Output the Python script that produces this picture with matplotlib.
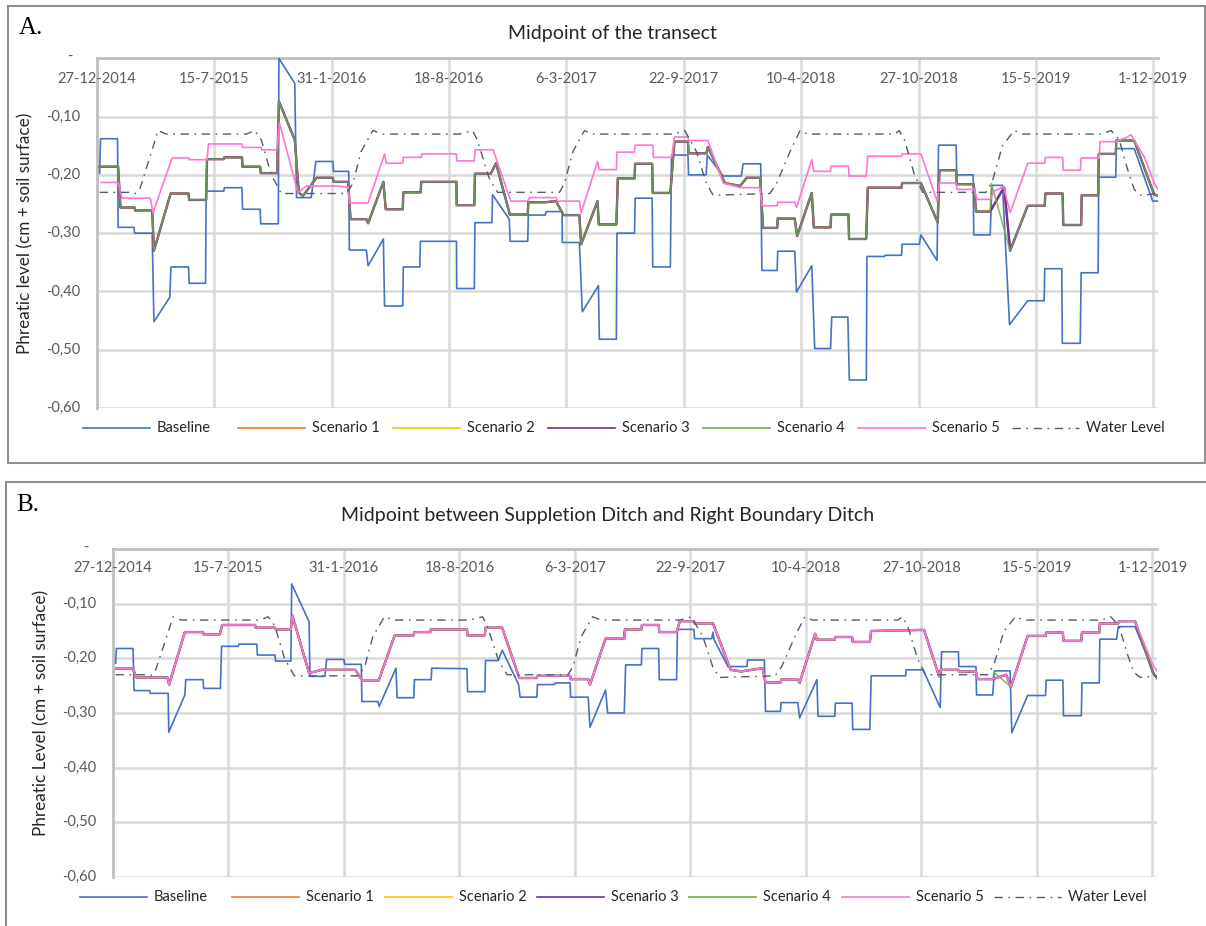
import datetime as dt
import matplotlib.pyplot as plt
from matplotlib.lines import Line2D
from matplotlib.patches import Rectangle

# x values are days counted from the first date of the series
start = dt.date(2014, 12, 27)
tick_days = list(range(0, 1801, 200))
x_end = 1808
y_ticks = [0.0, -0.1, -0.2, -0.3, -0.4, -0.5, -0.6]
y_labels = ['-', '-0,10', '-0,20', '-0,30', '-0,40', '-0,50', '-0,60']
names = ['Baseline', 'Scenario 1', 'Scenario 2', 'Scenario 3', 'Scenario 4', 'Scenario 5', 'Water Level']

# ---- A. midpoint of the transect ----
base_a = [(4.5, -0.197), (6, -0.138), (35, -0.138), (36, -0.29), (63, -0.29), (64, -0.30), (94, -0.30),
          (97, -0.452), (124, -0.41), (126, -0.358), (156, -0.358), (157, -0.386), (185, -0.386),
          (186, -0.228), (216, -0.228), (217, -0.222), (247, -0.222), (248, -0.259), (278, -0.259),
          (279, -0.284), (309, -0.284), (310, 0.0), (337, -0.043), (340, -0.239), (365, -0.239),
          (373, -0.177), (402, -0.177), (403, -0.194), (429, -0.194), (430, -0.329), (459, -0.329),
          (462, -0.356), (488, -0.31), (490, -0.425), (521, -0.425), (522, -0.358), (550, -0.358),
          (551, -0.314), (612.5, -0.314), (613, -0.395), (643, -0.395), (644, -0.282), (673, -0.282),
          (674, -0.234), (702.5, -0.276), (704, -0.314), (734, -0.314), (735, -0.269), (764, -0.269),
          (765, -0.263), (792.5, -0.263), (793, -0.316), (822, -0.316), (827, -0.435), (854.5, -0.39),
          (856, -0.482), (885, -0.482), (886, -0.30), (916, -0.30), (917, -0.24), (946, -0.24),
          (947, -0.358), (977, -0.358), (979, -0.166), (1007, -0.166), (1008, -0.2), (1038, -0.2),
          (1040, -0.166), (1067, -0.202), (1098, -0.202), (1101, -0.181), (1131, -0.181),
          (1133, -0.364), (1159, -0.364), (1160, -0.331), (1189, -0.331), (1192, -0.401),
          (1218, -0.356), (1223, -0.498), (1250, -0.498), (1252, -0.444), (1279.5, -0.444),
          (1282, -0.552), (1311, -0.552), (1312, -0.34), (1342, -0.34), (1343, -0.338), (1371, -0.338),
          (1372, -0.319), (1401.5, -0.319), (1404, -0.303), (1431.5, -0.347), (1434, -0.149),
          (1464, -0.149), (1465, -0.2), (1493, -0.2), (1494, -0.303), (1522, -0.303), (1525, -0.218),
          (1543, -0.218), (1555, -0.457), (1586, -0.416), (1614, -0.416), (1615, -0.361),
          (1644, -0.361), (1645, -0.489), (1675.5, -0.489), (1677, -0.368), (1706, -0.368),
          (1707, -0.204), (1736, -0.204), (1737, -0.155), (1767.5, -0.155), (1799, -0.245), (1808, -0.245)]

scen_a = [(4.5, -0.186), (36, -0.186), (40, -0.256), (64, -0.256), (65, -0.261), (94, -0.261), (97, -0.33),
          (125.5, -0.232), (156, -0.232), (157, -0.243), (186, -0.243), (187.5, -0.173), (216, -0.173),
          (217, -0.17), (247, -0.17), (248, -0.186), (278, -0.186), (279, -0.197), (307, -0.197),
          (310, -0.074), (337, -0.14), (344, -0.231), (351, -0.236), (374, -0.205), (402, -0.205),
          (403, -0.212), (428, -0.212), (432, -0.276), (459, -0.276), (462, -0.283), (488, -0.212),
          (492, -0.259), (521, -0.259), (522, -0.23), (551.5, -0.23), (552.5, -0.212), (612.5, -0.212),
          (613, -0.252), (643, -0.252), (644, -0.198), (671, -0.198), (680, -0.18), (703.5, -0.268),
          (734, -0.268), (735, -0.247), (764, -0.247), (782, -0.245), (795, -0.269), (822, -0.269),
          (825, -0.319), (853, -0.245), (855, -0.285), (885, -0.285), (887.5, -0.206), (916, -0.206),
          (917, -0.181), (946, -0.181), (947, -0.231), (977, -0.231), (984, -0.143), (1007, -0.143),
          (1008, -0.163), (1038.5, -0.163), (1041, -0.152), (1070, -0.214), (1096, -0.219),
          (1107, -0.205), (1130, -0.205), (1135, -0.291), (1159, -0.291), (1160, -0.275), (1189, -0.275),
          (1193, -0.305), (1218, -0.231), (1221.5, -0.29), (1250, -0.29), (1251, -0.268),
          (1280.6, -0.268), (1281.5, -0.31), (1310.7, -0.31), (1313.5, -0.222), (1371, -0.222),
          (1372, -0.214), (1404, -0.214), (1432.7, -0.282), (1435.5, -0.192), (1464, -0.192),
          (1465, -0.216), (1494, -0.216), (1498, -0.263), (1522, -0.263), (1540.5, -0.23),
          (1546, -0.222), (1556, -0.33), (1586, -0.253), (1615, -0.253), (1616, -0.232),
          (1645.5, -0.232), (1646.5, -0.286), (1677, -0.286), (1678, -0.235), (1706, -0.235),
          (1707, -0.164), (1736, -0.164), (1737, -0.141), (1767.5, -0.141), (1801.5, -0.234),
          (1808, -0.236)]
# scenario 4 turns down earlier in spring 2019
scen4_a = sorted([p for p in scen_a if not 1530 < p[0] < 1550] + [(1524, -0.215)])

scen5_a = [(7.4, -0.213), (36, -0.213), (42.6, -0.24), (91, -0.24), (95.4, -0.265), (128, -0.171),
           (156, -0.171), (157, -0.174), (187.5, -0.174), (190, -0.147), (247, -0.147), (248, -0.153),
           (280, -0.153), (281, -0.157), (307, -0.157), (311, -0.111), (342.5, -0.231), (356.7, -0.219),
           (408, -0.219), (428, -0.221), (430.5, -0.248), (462, -0.248), (490, -0.164), (493, -0.18),
           (521, -0.18), (522, -0.17), (552.6, -0.17), (553.5, -0.164), (612.5, -0.164), (613, -0.176),
           (643, -0.176), (644.5, -0.157), (675, -0.157), (705, -0.245), (734, -0.245), (736.7, -0.239),
           (782, -0.239), (785, -0.245), (822, -0.245), (825, -0.265), (853, -0.177), (856, -0.191),
           (885, -0.191), (886, -0.161), (916, -0.161), (917, -0.149), (947, -0.149), (948, -0.17),
           (979, -0.17), (984, -0.135), (1007, -0.135), (1008, -0.141), (1041, -0.141), (1067, -0.214),
           (1096, -0.222), (1130, -0.222), (1133, -0.253), (1159, -0.253), (1160, -0.247),
           (1189, -0.247), (1192, -0.256), (1218, -0.174), (1221.5, -0.194), (1250, -0.194),
           (1251, -0.185), (1280.6, -0.185), (1281.5, -0.202), (1310.7, -0.202), (1313.5, -0.168),
           (1371, -0.168), (1372, -0.164), (1404, -0.164), (1431.5, -0.245), (1435.5, -0.214),
           (1464, -0.214), (1465, -0.225), (1495, -0.225), (1499.6, -0.242), (1522, -0.242),
           (1529, -0.228), (1545, -0.22), (1556, -0.265), (1586, -0.18), (1615, -0.18), (1616, -0.17),
           (1645.5, -0.17), (1646.5, -0.192), (1675.6, -0.192), (1677, -0.171), (1708, -0.171),
           (1709, -0.143), (1736, -0.143), (1756, -0.135), (1762, -0.131), (1785, -0.17),
           (1801.5, -0.214), (1808, -0.225)]

# ditch water level, same for both locations
water = [(4.5, -0.23), (58.5, -0.23), (65, -0.232), (72.7, -0.225), (90, -0.17), (104, -0.124),
         (118, -0.13), (254.5, -0.13), (268.7, -0.124), (280, -0.14), (297, -0.2), (314, -0.232),
         (425, -0.232), (436, -0.215), (450, -0.16), (470, -0.124), (487, -0.13), (617, -0.13),
         (640, -0.124), (648, -0.14), (668, -0.205), (682.6, -0.23), (788, -0.23), (796.5, -0.215),
         (811, -0.16), (830.6, -0.124), (845, -0.13), (981.6, -0.13), (1001.5, -0.124),
         (1021.5, -0.16), (1038.5, -0.215), (1050, -0.235), (1146.6, -0.232), (1158, -0.215),
         (1181, -0.16), (1198, -0.124), (1211, -0.13), (1359, -0.13), (1367, -0.124), (1376, -0.14),
         (1393, -0.2), (1407, -0.23), (1515, -0.23), (1526, -0.21), (1543, -0.15), (1563, -0.124),
         (1578, -0.13), (1711, -0.13), (1728, -0.124), (1742, -0.14), (1756, -0.19),
         (1767.5, -0.225), (1779, -0.235), (1808, -0.232)]

# ---- B. between suppletion ditch and right boundary ditch ----
base_b = [(4.6, -0.209), (5.8, -0.182), (34.7, -0.182), (36.5, -0.259), (63.6, -0.259), (64.5, -0.264),
          (95.5, -0.264), (96.6, -0.335), (124.4, -0.267), (126, -0.239), (156, -0.239), (157, -0.255),
          (186, -0.255), (188, -0.178), (217, -0.178), (218, -0.174), (249, -0.174), (250, -0.194),
          (280.6, -0.194), (281.5, -0.205), (308, -0.205), (309.5, -0.064), (339.6, -0.133),
          (341, -0.233), (367, -0.233), (370, -0.202), (400, -0.202), (401, -0.211), (430, -0.211),
          (431, -0.279), (459, -0.279), (461, -0.288), (490, -0.218), (492, -0.272), (521, -0.272),
          (522, -0.239), (551, -0.239), (552, -0.218), (613, -0.219), (614, -0.261), (644, -0.261),
          (645, -0.204), (667, -0.204), (668, -0.202), (674, -0.185), (702.4, -0.248), (705, -0.271),
          (734, -0.271), (735, -0.248), (764.6, -0.248), (765.5, -0.245), (791.6, -0.245),
          (792.5, -0.271), (823, -0.271), (826, -0.326), (853, -0.258), (856.7, -0.3), (885.4, -0.3),
          (887.8, -0.212), (915, -0.212), (916, -0.182), (945, -0.182), (946, -0.239), (976, -0.239),
          (977.5, -0.147), (1006, -0.147), (1007, -0.164), (1037, -0.164), (1039, -0.152),
          (1041, -0.166), (1065, -0.215), (1098, -0.215), (1099, -0.203), (1128, -0.203),
          (1130, -0.297), (1156, -0.297), (1157, -0.281), (1186, -0.281), (1189, -0.309),
          (1219, -0.239), (1221, -0.306), (1250, -0.306), (1251, -0.282), (1280, -0.282),
          (1281, -0.33), (1310.7, -0.33), (1313, -0.232), (1372.8, -0.232), (1373.5, -0.221),
          (1403, -0.221), (1432.5, -0.29), (1434.8, -0.188), (1464, -0.188), (1465, -0.215),
          (1494.5, -0.215), (1495.5, -0.267), (1523.5, -0.267), (1526.5, -0.223), (1553.6, -0.223),
          (1556.5, -0.336), (1584, -0.268), (1615, -0.268), (1616, -0.24), (1645, -0.24),
          (1646, -0.305), (1677, -0.305), (1678, -0.245), (1708, -0.245), (1709, -0.165),
          (1738, -0.165), (1741, -0.142), (1770, -0.142), (1804.6, -0.232), (1808, -0.235)]

scen_b = [(5.8, -0.219), (34.7, -0.219), (40.5, -0.235), (94.3, -0.235), (97.2, -0.248), (124.4, -0.152),
          (156, -0.152), (157, -0.156), (185, -0.156), (189, -0.139), (246, -0.139), (247, -0.144),
          (280.6, -0.144), (281.5, -0.147), (308, -0.147), (310.7, -0.122), (339.6, -0.227),
          (361.6, -0.221), (419.5, -0.221), (432, -0.241), (460, -0.241), (487.8, -0.158),
          (520.7, -0.158), (521.5, -0.152), (549.7, -0.152), (550.5, -0.147), (613, -0.147),
          (614, -0.158), (644, -0.158), (645, -0.144), (674, -0.144), (703.6, -0.236), (734, -0.236),
          (735, -0.232), (791.6, -0.232), (792.5, -0.238), (823, -0.238), (826, -0.248), (853, -0.164),
          (885.4, -0.164), (886.5, -0.147), (915, -0.147), (916, -0.139), (945, -0.139), (946, -0.152),
          (976, -0.152), (981.6, -0.132), (1006, -0.132), (1007, -0.136), (1039, -0.136),
          (1069.6, -0.221), (1088, -0.224), (1125, -0.218), (1130, -0.244), (1156, -0.244),
          (1157, -0.239), (1186, -0.239), (1189, -0.245), (1216, -0.155), (1219, -0.166),
          (1250, -0.166), (1251, -0.161), (1280, -0.161), (1281, -0.17), (1310.7, -0.17), (1313, -0.15),
          (1404.6, -0.148), (1430.7, -0.233), (1433.6, -0.221), (1464, -0.221), (1465, -0.224),
          (1494.5, -0.224), (1497, -0.238), (1523.5, -0.238), (1546.7, -0.23), (1555, -0.252),
          (1584, -0.159), (1615, -0.159), (1616, -0.153), (1645, -0.153), (1646, -0.168),
          (1677, -0.168), (1678, -0.153), (1708, -0.153), (1709, -0.136), (1741, -0.136),
          (1742, -0.132), (1770, -0.132), (1801.7, -0.228), (1808, -0.236)]
scen4_b = sorted([p for p in scen_b if not 1530 < p[0] < 1550] + [(1526, -0.226)])
scen5_b = scen_b[:-2] + [(1801.7, -0.214), (1808, -0.223)]

colors = ['#4472C4', '#ED7D31', '#FFC000', '#7030A0', '#70AD47', '#FF75D4', '#4F5D70']
water_style = (0, (6, 4, 1.2, 4))

W, H = 1206, 926
fig = plt.figure(figsize=(W / 100, H / 100), dpi=100)
plt.rcParams['font.family'] = ['Lato', 'DejaVu Sans']


def fx(px):
    return px / W


def fy(py):
    return 1 - py / H


def draw_panel(box, area, letter, title, title_pos, ylabel, ylabel_x, tick_y, ylab_right,
               legend_y, legend_x0, legend_step, lines):
    x0, y0, x1, y1 = box
    fig.add_artist(Rectangle((fx(x0), fy(y1)), fx(x1 - x0), (y1 - y0) / H, fill=False,
                             edgecolor='#8f8f8f', lw=1.5, transform=fig.transFigure))
    fig.text(fx(letter[1]), fy(letter[2]), letter[0], family='Liberation Serif', fontsize=18,
             va='center', ha='left', color='black')
    fig.text(fx(title_pos[0]), fy(title_pos[1]), title, fontsize=14, ha='center',
             va='center', color='#262626')
    fig.text(fx(ylabel_x), fy((area[1] + area[3]) / 2), ylabel, rotation=90, fontsize=12.3,
             ha='center', va='center', color='#262626')

    ax = fig.add_axes([fx(area[0]), fy(area[3]), fx(area[2] - area[0]), (area[3] - area[1]) / H])
    ax.set_xlim(0, x_end)
    ax.set_ylim(-0.6, 0.0)
    ax.set_xticks(tick_days)
    ax.set_yticks(y_ticks)
    ax.tick_params(length=0, labelbottom=False, labelleft=False)
    ax.grid(True, color='#D9D9D9', lw=1.8)
    ax.set_axisbelow(True)
    for side in ['right', 'bottom']:
        ax.spines[side].set_visible(False)
    for side in ['top', 'left']:
        ax.spines[side].set_color('#BFBFBF')
        ax.spines[side].set_linewidth(2)

    for d in tick_days:
        day = start + dt.timedelta(days=d)
        ax.text(d, 1 - tick_y, f'{day.day}-{day.month}-{day.year}', transform=ax.get_xaxis_transform(),
                ha='center', va='center', fontsize=10.5, color='#595959')
    for v, lab in zip(y_ticks, y_labels):
        if lab == '-':
            fig.text(fx(ylab_right - 10), fy(area[1] - 1), lab, ha='center', va='center',
                     fontsize=10.5, color='#595959')
        else:
            ax.text(-(area[0] - ylab_right) / (area[2] - area[0]), v, lab,
                    transform=ax.get_yaxis_transform(), ha='right', va='center',
                    fontsize=10.5, color='#595959')

    widths = [1.2, 1.4, 1.4, 1.7, 1.2, 1.2, 1.0]
    alphas = [1, 1, 1, 1, 0.8, 1, 1]
    for i, pts in enumerate(lines):
        days = [p[0] for p in pts]
        vals = [p[1] for p in pts]
        ls = water_style if i == 6 else '-'
        ax.plot(days, vals, color=colors[i], lw=widths[i], ls=ls, alpha=alphas[i], zorder=3 + i)

    # legend drawn as equally spaced entries under the plot
    for i, name in enumerate(names):
        lx = legend_x0 + i * legend_step
        ls = water_style if i == 6 else '-'
        fig.add_artist(Line2D([fx(lx), fx(lx + 67)], [fy(legend_y), fy(legend_y)], color=colors[i],
                              lw=1.2 if i < 6 else 1.0, ls=ls, transform=fig.transFigure))
        fig.text(fx(lx + 74), fy(legend_y), name, ha='left', va='center', fontsize=10.5,
                 color='#262626')
    return ax


draw_panel((8, 6, 1205, 463), (97, 58.3, 1158, 408), ('A.', 19, 28),
           'Midpoint of the transect', (612, 33), 'Phreatic level (cm + soil surface)', 25,
           21 / 350, 80, 428, 83, 154.9,
           [base_a, scen_a, scen_a, scen_a, scen4_a, scen5_a, water])

draw_panel((6, 482, 1212, 935), (113, 549, 1157, 877), ('B.', 16, 505),
           'Midpoint between Suppletion Ditch and Right Boundary Ditch', (608, 515),
           'Phreatic Level (cm + soil surface)', 41,
           19 / 328, 96, 897, 80, 152.3,
           [base_b, scen_b, scen_b, scen_b, scen4_b, scen5_b, water])

fig.savefig('out.png', dpi=100, facecolor='white')
